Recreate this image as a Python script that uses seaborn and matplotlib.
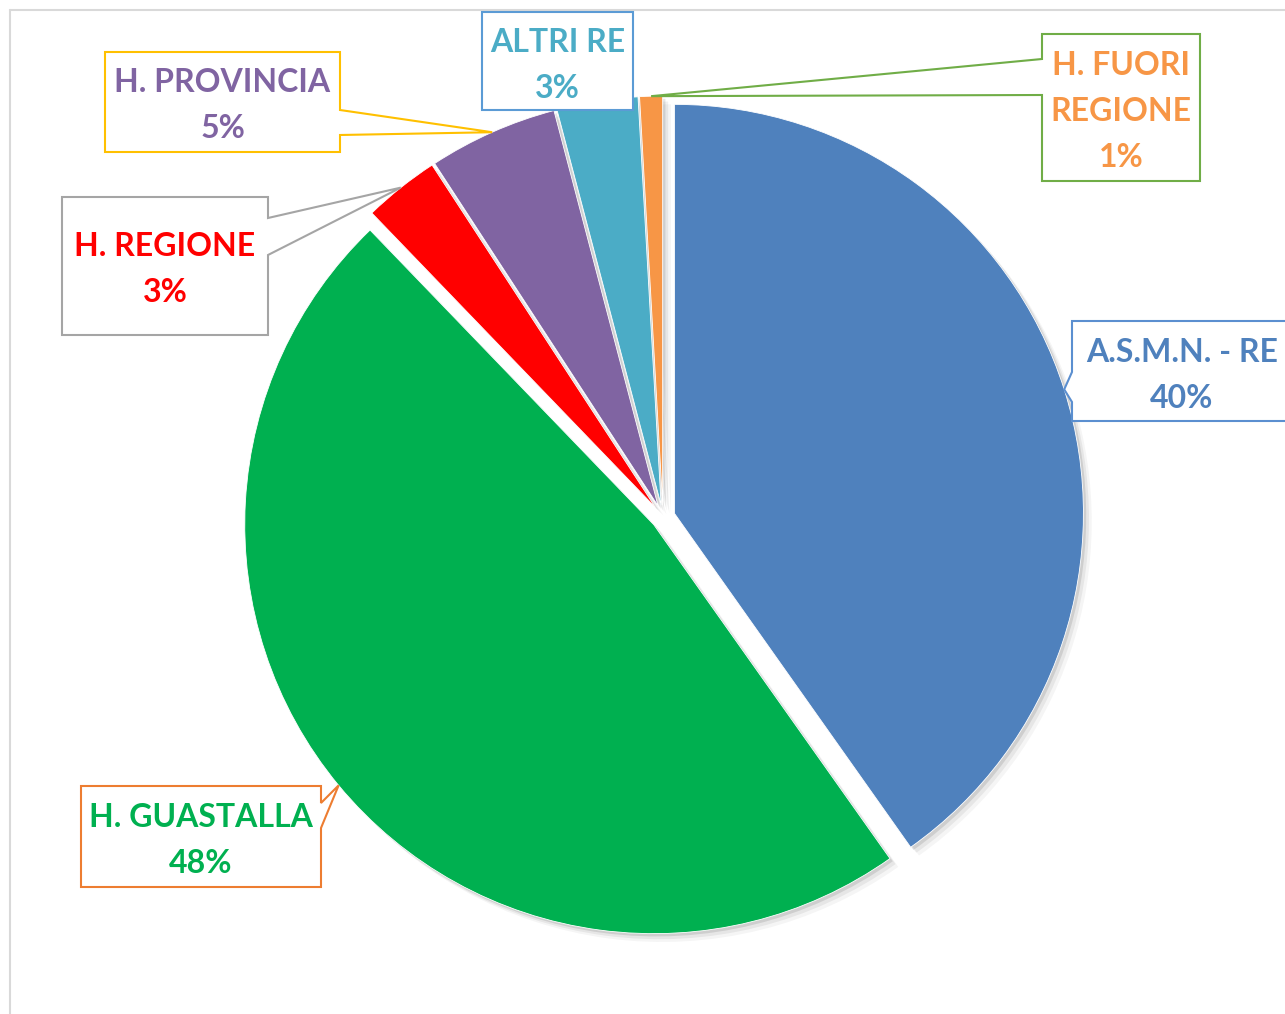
import math
import matplotlib
matplotlib.use('Agg')
import matplotlib.pyplot as plt
import matplotlib.patheffects as pe
from matplotlib.patches import Polygon
import seaborn as sns

# data (clockwise from 12 o'clock)
labels = ['A.S.M.N. - RE', 'H. GUASTALLA', 'H. REGIONE', 'H. PROVINCIA', 'ALTRI RE', 'H. FUORI\nREGIONE']
values = [40.2, 47.6, 3.0, 5.1, 3.2, 0.9]
colors = ['#4F81BD', '#00B050', '#FF0000', '#8064A2', '#4BACC6', '#F79646']
box_edges = ['#5B8FD0', '#ED7D31', '#A5A5A5', '#FFC000', '#5B9BD5', '#70AD47']

sns.set_theme(style='white')
plt.rcParams['font.family'] = ['Lato', 'DejaVu Sans']

W, H = 1285, 1014
fig = plt.figure(figsize=(W / 100, H / 100), dpi=100)
ax = fig.add_axes([0, 0, 1, 1])

cx, cy, R = 663, H - 517, 409
explode = [12] * len(values)

shadow = [pe.SimplePatchShadow(offset=(6, -6), shadow_rgbFace='black', alpha=0.04),
          pe.SimplePatchShadow(offset=(4, -4), shadow_rgbFace='black', alpha=0.06),
          pe.SimplePatchShadow(offset=(2, -2), shadow_rgbFace='black', alpha=0.10),
          pe.Normal()]
wedges, _ = ax.pie(values, colors=colors, explode=explode, startangle=90,
                   counterclock=False, center=(cx, cy), radius=R,
                   wedgeprops=dict(edgecolor='white', linewidth=0.6))
for w in wedges:
    w.set_path_effects(shadow)

ax.set_xlim(0, W)
ax.set_ylim(0, H)
ax.set_aspect('equal')
ax.axis('off')

# chart area frame (left and top edges visible)
ax.plot([10, 10], [0, H - 10], color='#d9d9d9', lw=1.5, zorder=0)
ax.plot([10, W], [H - 10, H - 10], color='#d9d9d9', lw=1.5, zorder=0)

# label boxes in pixel coords (x0, y0, x1, y1), pointer side and attach points
boxes = [
    ((1072, 321, 1292, 421), 'left', (372, 402)),
    ((81, 786, 321, 887), 'right', (803, 828)),
    ((62, 197, 268, 335), 'right', (218, 255)),
    ((105, 52, 340, 152), 'right', (110, 135)),
    ((482, 12, 633, 110), None, None),
    ((1042, 34, 1200, 181), 'left', (59, 95)),
]

total = sum(values)
for w, lab, v, col, ec, (box, side, att) in zip(wedges, labels, values, colors, box_edges, boxes):
    x0, y0, x1, y1 = box
    tm = math.radians((w.theta1 + w.theta2) / 2)
    tip = (w.center[0] + w.r * math.cos(tm), w.center[1] + w.r * math.sin(tm))
    P = lambda x, y: (x, H - y)
    if side == 'right':
        pts = [P(x0, y0), P(x1, y0), P(x1, att[0]), tip, P(x1, att[1]), P(x1, y1), P(x0, y1)]
    elif side == 'left':
        pts = [P(x0, y0), P(x1, y0), P(x1, y1), P(x0, y1), P(x0, att[1]), tip, P(x0, att[0])]
    else:
        pts = [P(x0, y0), P(x1, y0), P(x1, y1), P(x0, y1)]
    ax.add_patch(Polygon(pts, closed=True, facecolor='white', edgecolor=ec, lw=1.5, zorder=5))

    lines = lab.split('\n') + [f'{round(v / total * 100)}%']
    mid = (y0 + y1) / 2 + 4
    step = 46
    for i, t in enumerate(lines):
        yy = mid + (i - (len(lines) - 1) / 2) * step
        ax.text((x0 + x1) / 2, H - yy, t, ha='center', va='center', color=col,
                fontsize=23, fontweight='bold', zorder=6)

fig.savefig('out.png', dpi=100)
